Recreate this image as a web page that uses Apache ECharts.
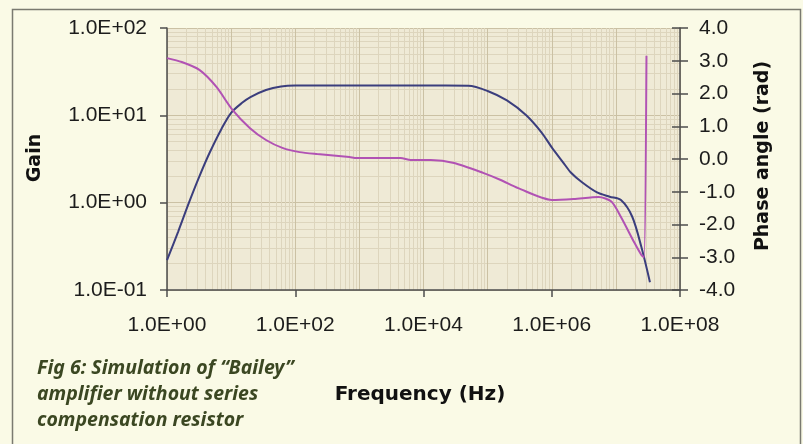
<!DOCTYPE html>
<html>
<head>
<meta charset="utf-8">
<title>Fig 6: Bailey amplifier simulation</title>
<script src="https://cdn.jsdelivr.net/npm/echarts@6/dist/echarts.min.js"></script>
<style>
  html, body { margin: 0; padding: 0; background: #fafae6; }
  #chart { width: 803px; height: 444px; }
</style>
</head>
<body>
<div id="chart"></div>
<script>
// gain curve (left, log axis)
const gainFreq = [1, 1.5, 2.2, 3.2, 4.6, 7, 10, 15, 20, 35, 60, 100, 1000, 10000, 50000,
    100000, 200000, 400000, 700000, 1e6, 1.5e6, 2e6, 3e6, 5e6, 8e6, 1.2e7, 1.8e7, 2.5e7, 3.4e7];
const gainValues = [0.22, 0.47, 1.0, 2.0, 3.7, 6.9, 10.7, 14, 16.2, 19.5, 21.4, 21.9, 21.9, 21.9, 21.8,
    19, 14.8, 10, 6.3, 4.3, 2.9, 2.2, 1.7, 1.32, 1.17, 1.07, 0.69, 0.31, 0.123];

// phase curve (right axis, rad)
const phaseFreq = [1, 1.7, 3.2, 5.9, 10.5, 19.5, 35, 63, 117, 220, 700, 900, 4400, 6300, 13000,
    30000, 87000, 160000, 300000, 1e6, 2.2e6, 5.4e6, 8.5e6, 1.2e7, 1.95e7, 2.5e7, 2.75e7, 3.0e7];
const phaseValues = [3.08, 2.96, 2.72, 2.2, 1.5, 0.95, 0.58, 0.34, 0.21, 0.15, 0.06, 0.03, 0.03, -0.03, -0.03,
    -0.12, -0.43, -0.64, -0.89, -1.25, -1.22, -1.16, -1.3, -1.77, -2.56, -2.93, -3.0, 3.15];

const freqTicks = [1, 1e2, 1e4, 1e6, 1e8];
const captionLines = ['Fig 6: Simulation of \u201cBailey\u201d', 'amplifier without series', 'compensation resistor'];

/**
 * helpers
 */
const expLabel = v => {
    const e = Math.round(Math.log10(v));
    return '1.0E' + (e < 0 ? '-' : '+') + String(Math.abs(e)).padStart(2, '0');
};
const tickFont = { fontFamily: '"Liberation Sans", Arial, sans-serif', fontSize: 21, color: '#1c1c1c' };
const axisGray = '#4d4d4d';
const titleFont = '"DejaVu Sans", Verdana, sans-serif';

const option = {
    backgroundColor: '#fafae6',
    animation: false,
    grid: {
        left: 167,
        right: 123,
        top: 28,
        bottom: 154,
        show: true,
        backgroundColor: '#efead6',
        borderWidth: 0,
    },
    xAxis: [
        {
            type: 'log',
            min: 1,
            max: 1e8,
            axisLine: { show: true, onZero: false, lineStyle: { color: axisGray, width: 1.5 } },
            axisTick: { show: true, customValues: freqTicks, length: 7, lineStyle: { color: axisGray, width: 1.5 } },
            axisLabel: { customValues: freqTicks, margin: 25, formatter: expLabel, ...tickFont },
            splitLine: { show: false },
        },
        {
            // decade + minor grid only
            type: 'log',
            min: 1,
            max: 1e8,
            splitNumber: 8,
            axisLine: { show: false, onZero: false },
            axisTick: { show: false },
            axisLabel: { show: false },
            splitLine: { show: true, lineStyle: { color: '#cbc1a4', width: 1 } },
            minorTick: { show: false, splitNumber: 9 },
            minorSplitLine: { show: true, lineStyle: { color: '#ddd5bd', width: 1 } },
        },
    ],
    yAxis: [
        {
            type: 'log',
            min: 0.1,
            max: 100,
            position: 'left',
            axisLine: { show: true, onZero: false, lineStyle: { color: axisGray, width: 1.5 } },
            axisTick: { show: true, length: 7, lineStyle: { color: axisGray, width: 1.5 } },
            axisLabel: { margin: 20, formatter: expLabel, ...tickFont },
            splitLine: { show: true, lineStyle: { color: '#cbc1a4', width: 1 } },
            minorTick: { show: false, splitNumber: 9 },
            minorSplitLine: { show: true, lineStyle: { color: '#ddd5bd', width: 1 } },
        },
        {
            type: 'value',
            min: -4,
            max: 4,
            interval: 1,
            position: 'right',
            axisLine: { show: true, onZero: false, lineStyle: { color: axisGray, width: 1.5 } },
            axisTick: { show: true, length: 8, lineStyle: { color: axisGray, width: 1.5 } },
            axisLabel: { margin: 19, formatter: v => v.toFixed(1), ...tickFont },
            splitLine: { show: false },
        },
        {
            // inner half of the crossing ticks
            type: 'value',
            min: -4,
            max: 4,
            interval: 1,
            position: 'right',
            axisLine: { show: false, onZero: false },
            axisTick: { show: true, inside: true, length: 8, lineStyle: { color: axisGray, width: 1.5 } },
            axisLabel: { show: false },
            splitLine: { show: false },
        },
    ],
    series: [
        {
            name: 'Gain',
            type: 'line',
            xAxisIndex: 0,
            yAxisIndex: 0,
            data: gainFreq.map((f, i) => [f, gainValues[i]]),
            showSymbol: false,
            smooth: 0.3,
            lineStyle: { color: '#3b3e7d', width: 2 },
        },
        {
            name: 'Phase angle',
            type: 'line',
            xAxisIndex: 0,
            yAxisIndex: 1,
            data: phaseFreq.map((f, i) => [f, phaseValues[i]]),
            showSymbol: false,
            smooth: 0.25,
            lineStyle: { color: '#b152b4', width: 2 },
        },
    ],
    graphic: [
        {
            type: 'rect',
            left: 10,
            top: 7,
            silent: true,
            shape: { width: 788, height: 436 },
            style: { fill: 'none', stroke: '#7a7a70', lineWidth: 1.5 },
        },
        {
            type: 'text',
            x: 35,
            y: 158,
            rotation: Math.PI / 2,
            style: { text: 'Gain', font: 'bold 19px ' + titleFont, fill: '#111', align: 'center', verticalAlign: 'middle' },
        },
        {
            type: 'text',
            x: 763,
            y: 156,
            rotation: Math.PI / 2,
            style: { text: 'Phase angle (rad)', font: 'bold 19px ' + titleFont, fill: '#111', align: 'center', verticalAlign: 'middle' },
        },
        {
            type: 'text',
            x: 420,
            y: 395,
            style: { text: 'Frequency (Hz)', font: 'bold 20px ' + titleFont, fill: '#111', align: 'center', verticalAlign: 'middle' },
        },
        ...captionLines.map((line, i) => ({
            type: 'text',
            x: 37,
            y: 368 + i * 26,
            style: { text: line, font: 'italic bold 19.5px "Noto Sans", sans-serif', fill: '#3b4722', align: 'left', verticalAlign: 'middle' },
        })),
    ],
};

const myChart = echarts.init(document.getElementById('chart'));
myChart.setOption(option);
</script>
</body>
</html>
